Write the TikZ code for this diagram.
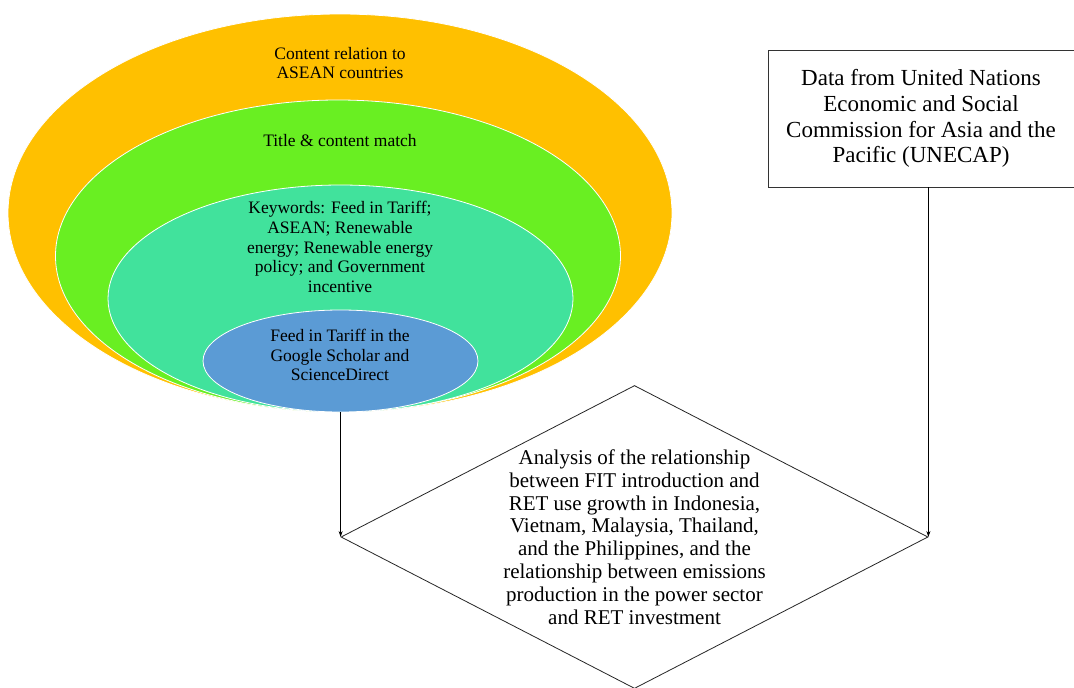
\documentclass[tikz,border=0pt]{standalone}
\usepackage{fontspec}
\setmainfont{Liberation Serif}
\usepackage{tikz}
\usetikzlibrary{positioning,arrows.meta,calc,shapes.geometric}

\definecolor{ringorange}{HTML}{FFC000}
\definecolor{ringgreen}{HTML}{69EF22}
\definecolor{ringteal}{HTML}{41E29C}
\definecolor{ringblue}{HTML}{5B9BD5}

\begin{document}
\begin{tikzpicture}[
    x=1pt, y=-1pt,
    >={Stealth[length=6pt,width=4pt]},
    ring/.style={
        ellipse,
        draw=white,
        line width=0.8pt,
        inner sep=0pt
    },
    ringtext/.style={
        align=center,
        font=\fontsize{17.5}{19.7}\selectfont
    },
    sourcebox/.style={
        rectangle,
        draw=black!80,
        line width=0.8pt,
        minimum width=306pt,
        minimum height=137pt,
        align=center,
        font=\fontsize{23}{25.7}\selectfont
    },
    decision/.style={
        diamond,
        draw=black!85,
        line width=0.8pt,
        aspect=1.93,
        inner sep=-30pt,
        minimum width=587pt,
        minimum height=303pt,
        align=center,
        font=\fontsize{21}{22.8}\selectfont
    }
]
\useasboundingbox[fill=white] (0,0) rectangle (1074,688);

% nested filter rings
\node[ring, fill=ringorange, minimum width=664pt, minimum height=398pt] (asean) at (340,213) {};
\node[ring, fill=ringgreen, minimum width=565pt, minimum height=312pt] (title) at (338,256) {};
\node[ring, fill=ringteal, minimum width=465pt, minimum height=227pt] (keywords) at (340.5,298.5) {};
\node[ring, fill=ringblue, minimum width=275pt, minimum height=102pt] (search) at (340.5,361) {};

\node[ringtext] (asean text) at (340,63) {Content relation to\\ASEAN countries};
\node[ringtext] (title text) at (340,141) {Title \& content match};
\node[ringtext] (keywords text) at (340,247) {Keywords: Feed in Tariff;\\ASEAN; Renewable\\energy; Renewable energy\\policy; and Government\\incentive};
\node[ringtext] (search text) at (340,355) {Feed in Tariff in the\\Google Scholar and\\ScienceDirect};

% data source and analysis
\node[sourcebox] (unescap) at (921,118.5) {Data from United Nations\\Economic and Social\\Commission for Asia and the\\Pacific (UNECAP)};
\node[decision] (analysis) at (634.5,537) {Analysis of the relationship\\between FIT introduction and\\RET use growth in Indonesia,\\Vietnam, Malaysia, Thailand,\\and the Philippines, and the\\relationship between emissions\\production in the power sector\\and RET investment};

\draw[->, line width=0.8pt] (analysis.west |- search.south) -- (analysis.west);
\draw[->, line width=0.8pt] (analysis.east |- unescap.south) -- (analysis.east);

\end{tikzpicture}
\end{document}
